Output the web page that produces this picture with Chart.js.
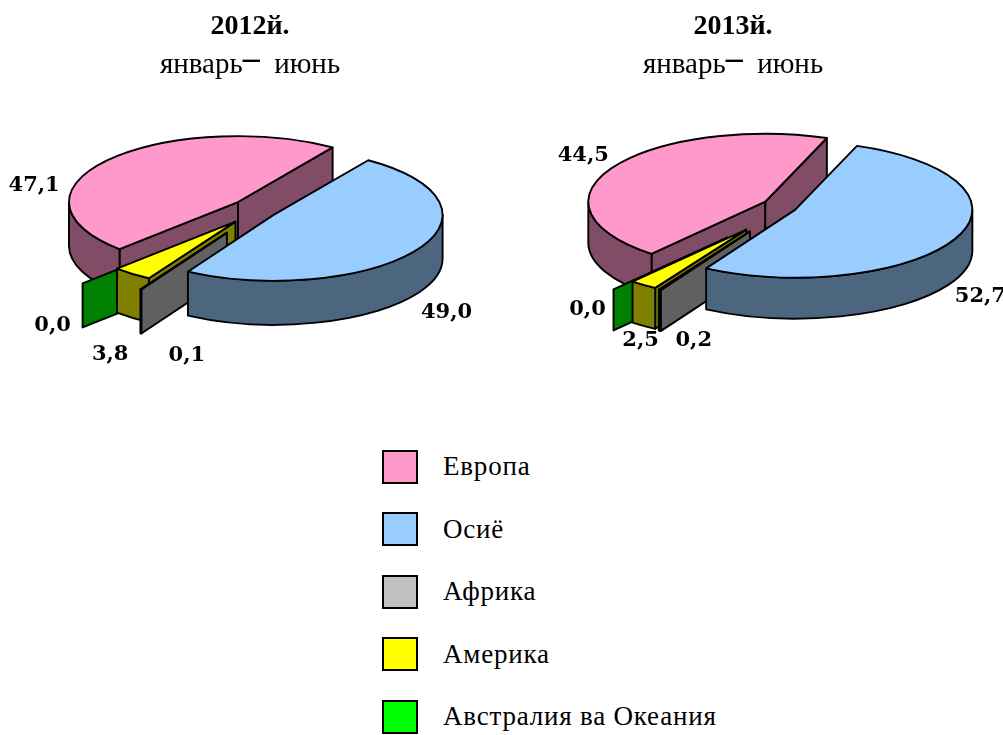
<!DOCTYPE html>
<html><head><meta charset="utf-8">
<script src="https://cdn.jsdelivr.net/npm/chart.js@4/dist/chart.umd.min.js"></script>
<style>
html,body{margin:0;padding:0;background:#fff;width:1003px;height:735px;overflow:hidden;}
.box{position:absolute;top:0;height:420px;}
.title{position:absolute;text-align:center;font-family:"Liberation Serif","Times New Roman",serif;color:#000;line-height:1;white-space:nowrap;}
.t1{font-weight:bold;font-size:28px;}
.t2{font-size:29px;}
.t2 .dash{position:relative;top:-4px;font-weight:bold;font-size:34px;line-height:0;}
#legend{position:absolute;left:382px;top:450px;font-family:"Liberation Serif","Times New Roman",serif;font-size:27px;color:#000;}
.row{position:absolute;left:0;height:33px;display:flex;align-items:center;white-space:nowrap;}
.sw{width:32px;height:30px;border:2px solid #000;box-sizing:content-box;}
.lt{position:absolute;left:61px;letter-spacing:0.8px;}
</style></head><body>
<div class="box" style="left:0;width:500px;"><canvas id="c2012"></canvas></div>
<div class="box" style="left:500px;width:503px;"><canvas id="c2013"></canvas></div>
<div id="titles"></div>
<div id="legend"></div>
<script>
// ---- data ----
const categories = ['Европа', 'Осиё', 'Африка', 'Америка', 'Австралия ва Океания'];
const values2012 = [47.1, 49.0, 0.1, 3.8, 0.0];
const values2013 = [44.5, 52.7, 0.2, 2.5, 0.0];
const yearTitles = ['2012й.', '2013й.'];
const periodParts = ['январь', '–', ' июнь'];
const topColors = ['#FF99CC', '#99CCFF', '#C0C0C0', '#FFFF00', '#00FF00'];
const sideColors = ['#804C66', '#4C6680', '#606060', '#808000', '#008000'];

function fmt(v) { return v.toFixed(1).replace('.', ','); }

const pie3d = {
  id: 'pie3d',
  beforeDatasetsDraw(chart, args, opts) {
    const ctx = chart.ctx;
    const meta = chart.getDatasetMeta(0);
    const ds = chart.data.datasets[0];
    const k = opts.tilt, D = opts.depth, ke = opts.explodeTilt;
    const slices = meta.data.map((arc, i) => {
      const p = arc.getProps(['x', 'y', 'startAngle', 'endAngle', 'outerRadius'], true);
      const s = p.startAngle, e = p.endAngle, m = (s + e) / 2;
      const ex = opts.explode[i];
      return { i, s, e, m, R: p.outerRadius,
        ax: p.x + Math.cos(m) * ex, ay: p.y + Math.sin(m) * ex * ke,
        top: ds.backgroundColor[i], side: opts.sideColors[i], value: ds.data[i] };
    });
    const rim = (sl, t, dy) => [sl.ax + sl.R * Math.cos(t), sl.ay + sl.R * k * Math.sin(t) + dy];
    ctx.save();
    ctx.lineWidth = 1.9;
    ctx.lineJoin = 'round';
    ctx.strokeStyle = '#000';
    function face(sl, t) {
      const [x, y] = rim(sl, t, 0);
      ctx.beginPath();
      ctx.moveTo(sl.ax, sl.ay);
      ctx.lineTo(x, y);
      ctx.lineTo(x, y + D);
      ctx.lineTo(sl.ax, sl.ay + D);
      ctx.closePath();
      ctx.fillStyle = sl.side; ctx.fill(); ctx.stroke();
    }
    function outer(sl, a, b) {
      const [xb, yb] = rim(sl, b, D);
      ctx.beginPath();
      ctx.ellipse(sl.ax, sl.ay, sl.R, sl.R * k, 0, a, b, false);
      ctx.lineTo(xb, yb);
      ctx.ellipse(sl.ax, sl.ay + D, sl.R, sl.R * k, 0, b, a, true);
      ctx.closePath();
      ctx.fillStyle = sl.side; ctx.fill(); ctx.stroke();
    }
    const TAU = Math.PI * 2;
    opts.order.forEach(idx => {
      const sl = slices[idx];
      if (sl.e - sl.s < 1e-6) { face(sl, sl.s); return; }
      if (Math.cos(sl.s) < 0) face(sl, sl.s);
      if (Math.cos(sl.e) > 0) face(sl, sl.e);
      for (let n = Math.floor(sl.s / TAU) - 1; n <= Math.ceil(sl.e / TAU) + 1; n++) {
        const a = Math.max(sl.s, n * TAU), b = Math.min(sl.e, n * TAU + Math.PI);
        if (b > a) outer(sl, a, b);
      }
      ctx.beginPath();
      ctx.moveTo(sl.ax, sl.ay);
      ctx.ellipse(sl.ax, sl.ay, sl.R, sl.R * k, 0, sl.s, sl.e, false);
      ctx.closePath();
      ctx.fillStyle = sl.top; ctx.fill(); ctx.stroke();
    });
    ctx.fillStyle = '#000';
    ctx.font = 'bold 21px "DejaVu Serif"';
    ctx.textAlign = 'center';
    ctx.textBaseline = 'middle';
    slices.forEach(sl => {
      const [x, y] = rim(sl, sl.m, 0);
      const nd = opts.labelNudge[sl.i];
      ctx.fillText(fmt(sl.value), x + nd[0], y + nd[1]);
    });
    ctx.restore();
    return false;
  }
};

function makeChart(id, values, rotation, padding, w, pieOpts) {
  const cv = document.getElementById(id);
  cv.width = w; cv.height = 420;
  cv.style.width = w + 'px'; cv.style.height = '420px';
  return new Chart(cv, {
    type: 'pie',
    data: { labels: categories, datasets: [{ data: values, backgroundColor: topColors, borderWidth: 0 }] },
    options: {
      responsive: false, animation: false, devicePixelRatio: 1,
      rotation: rotation,
      layout: { padding: padding },
      plugins: { legend: { display: false }, tooltip: { enabled: false }, title: { display: false },
        pie3d: Object.assign({ sideColors: sideColors, order: [0, 4, 3, 2, 1] }, pieOpts) }
    },
    plugins: [pie3d]
  });
}

makeChart('c2012', values2012, 224.5, { left: 86, right: 76, top: 40, bottom: 42 }, 500, {
  tilt: 0.39, depth: 44, explodeTilt: 0.5,
  explode: [22, 22, 55, 32, 77],
  labelNudge: [[-73, 25], [30, 62], [46, 66], [-22, 81], [-30, 42]]
});
makeChart('c2013', values2013, 220, { left: 103, right: 46, top: 29, bottom: 37 }, 503, {
  tilt: 0.384, depth: 41, explodeTilt: 0.5,
  explode: [17, 17, 59, 58, 82],
  labelNudge: [[-29, -12], [25, 58], [34, 51], [-3, 56], [-26, 20]]
});

// titles
const tdiv = document.getElementById('titles');
[250, 733].forEach((cx, i) => {
  const a = document.createElement('div');
  a.className = 'title t1'; a.style.left = (cx - 150) + 'px'; a.style.width = '300px'; a.style.top = '11px';
  a.textContent = yearTitles[i];
  const b = document.createElement('div');
  b.className = 'title t2'; b.style.left = (cx - 150) + 'px'; b.style.width = '300px'; b.style.top = '49px';
  b.innerHTML = periodParts[0] + '<span class="dash">' + periodParts[1] + '</span>' + periodParts[2].replace(' ', '&nbsp;&nbsp;');
  tdiv.appendChild(a); tdiv.appendChild(b);
});

// legend
const lg = document.getElementById('legend');
categories.forEach((name, i) => {
  const r = document.createElement('div');
  r.className = 'row'; r.style.top = (i * 62.5) + 'px';
  const sw = document.createElement('div'); sw.className = 'sw'; sw.style.background = topColors[i];
  const t = document.createElement('span'); t.className = 'lt'; t.textContent = name;
  r.appendChild(sw); r.appendChild(t); lg.appendChild(r);
});
</script>
</body></html>
